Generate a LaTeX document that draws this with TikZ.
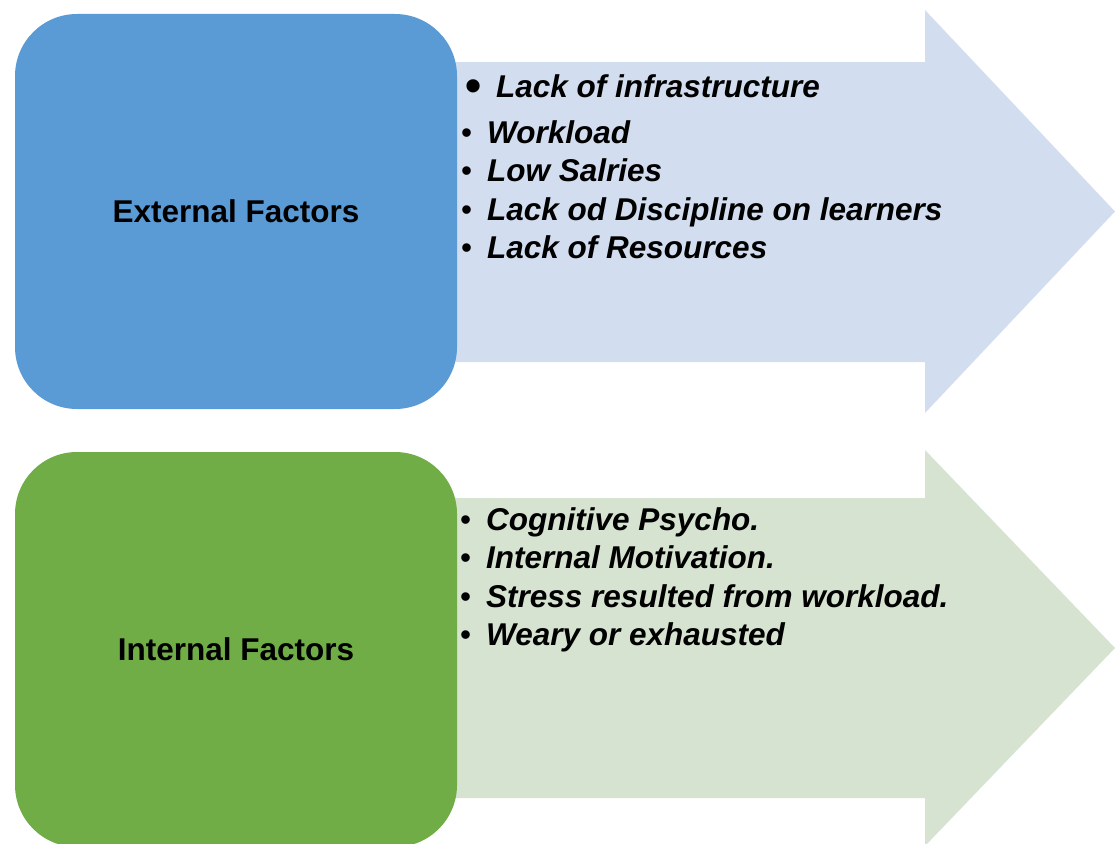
\documentclass[tikz,border=0pt]{standalone}
\usepackage{fontspec}
\setmainfont{Liberation Sans}
\definecolor{extbox}{HTML}{5B9BD5}
\definecolor{extarrow}{HTML}{D2DEEF}
\definecolor{intbox}{HTML}{70AD47}
\definecolor{intarrow}{HTML}{D6E3D0}
\newcommand{\itembullet}{\makebox[26pt][l]{\upshape\mdseries •}}
\begin{document}
\begin{tikzpicture}[x=1pt,y=-1pt,
  factorbox/.style={rectangle, rounded corners=62pt, inner sep=0pt,
    minimum width=442pt, minimum height=395pt,
    font=\fontsize{31.5}{38}\selectfont\bfseries},
  item/.style={font=\fontsize{31.5}{38}\selectfont\bfseries\itshape,
    anchor=base west, inner sep=0pt}]
\useasboundingbox (0,0) rectangle (1115,843);
\clip (0,0) rectangle (1115,843);

% block arrows behind the boxes
\fill[extarrow] (440,62) -- (925,62) -- (925,10) -- (1115,211.5)
  -- (925,413) -- (925,362) -- (440,362) -- cycle;
\fill[intarrow] (440,498) -- (925,498) -- (925,450) -- (1115,648)
  -- (925,846) -- (925,798) -- (440,798) -- cycle;

% factor boxes
\node[factorbox, fill=extbox] (ext) at (236,211.5) {External Factors};
\node[factorbox, fill=intbox] (int) at (236,649.5) {Internal Factors};

% external factor list
\node[item] (e1) at (465,97) {\makebox[31pt][l]{\upshape\fontsize{46}{46}\selectfont\raisebox{-4pt}{•}}Lack of infrastructure};
\node[item] (e2) at (461,143) {\itembullet Workload};
\node[item] (e3) at (461,181) {\itembullet Low Salries};
\node[item] (e4) at (461,220) {\itembullet Lack od Discipline on learners};
\node[item] (e5) at (461,258) {\itembullet Lack of Resources};

% internal factor list
\node[item] (i1) at (460,530) {\itembullet Cognitive Psycho.};
\node[item] (i2) at (460,568) {\itembullet Internal Motivation.};
\node[item] (i3) at (460,607) {\itembullet Stress resulted from workload.};
\node[item] (i4) at (460,645) {\itembullet Weary or exhausted};
\end{tikzpicture}
\end{document}
